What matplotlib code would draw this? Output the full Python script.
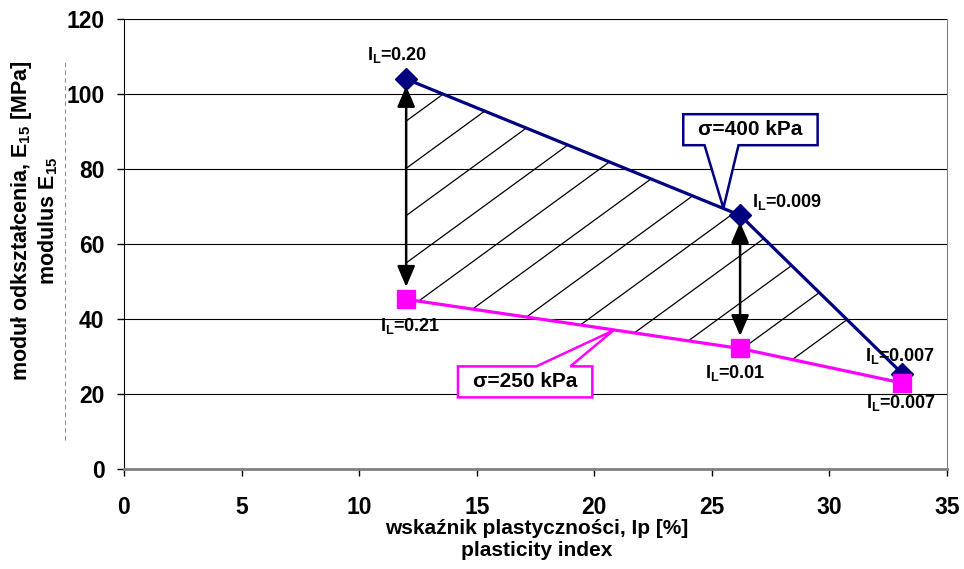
import numpy as np
import matplotlib
matplotlib.use("Agg")
import matplotlib.pyplot as plt
from matplotlib.patches import Polygon

plt.rcParams['font.family'] = ['Liberation Sans', 'DejaVu Sans']
plt.rcParams['font.weight'] = 'bold'
plt.rcParams['mathtext.fontset'] = 'custom'
plt.rcParams['mathtext.rm'] = 'Liberation Sans:bold'
plt.rcParams['mathtext.bf'] = 'Liberation Sans:bold'

# data
ip = [12.0, 26.2, 33.1]
e15_400 = [104.0, 67.7, 25.5]
e15_250 = [45.3, 32.2, 23.0]
il_400 = ['0.20', '0.009', '0.007']
il_250 = ['0.21', '0.01', '0.007']

navy = '#000080'
pink = '#FF00FF'

fig = plt.figure(figsize=(9.64, 5.69), dpi=100)
ax = fig.add_axes([0.1286, 0.1752, 0.9824 - 0.1286, 0.9666 - 0.1752])

ax.set_xlim(0, 35)
ax.set_ylim(0, 120)
ax.set_xticks(np.arange(0, 36, 5))
ax.set_yticks(np.arange(0, 121, 20))
for y in range(20, 121, 20):
    ax.axhline(y, color='black', lw=0.8, zorder=1)
ax.tick_params(axis='both', labelsize=16.5, length=5, width=1)
ax.tick_params(axis='x', pad=14)
ax.tick_params(axis='y', pad=9)
for lab in ax.get_xticklabels() + ax.get_yticklabels():
    lab.set_fontweight('bold')
ax.spines['top'].set_visible(False)
ax.spines['right'].set_color('#808080')
ax.spines['bottom'].set_color('#808080')
ax.spines['bottom'].set_linewidth(2)
ax.spines['left'].set_color('black')

# hatched region between the two curves
poly_xy = list(zip(ip, e15_400)) + list(zip(ip[::-1], e15_250[::-1]))
region = Polygon(poly_xy, closed=True, fill=False, edgecolor='none')
ax.add_patch(region)
slope = 4.57
for b in np.arange(55.0 - 12.6 * 8, 110, 12.6):
    xs = np.array([12.0, 33.1])
    hl, = ax.plot(xs, b + slope * (xs - 12.0), color='black', lw=0.9, zorder=2)
    hl.set_clip_path(region)

ax.plot(ip, e15_400, color=navy, lw=2.3, marker='D', ms=11, zorder=4)
ax.plot(ip, e15_250, color=pink, lw=2.3, marker='s', ms=13, zorder=5)

# double arrows between the two stresses
for i in range(2):
    ax.annotate('', xy=(ip[i], e15_250[i]), xytext=(ip[i], e15_400[i]),
                arrowprops=dict(arrowstyle='<|-|>,head_length=0.7,head_width=0.3',
                                color='black', lw=1.8, shrinkA=5, shrinkB=9,
                                mutation_scale=18), zorder=6)

# I_L labels
off_400 = [(-9, 24), (12, 13), (-2, 18)]
off_250 = [(4, -27), (-5, -25), (-1, -20)]
ha_400 = ['center', 'left', 'center']
for x, y, t, o, h in zip(ip, e15_400, il_400, off_400, ha_400):
    ax.annotate(r'I$_\mathrm{L}$=' + t, (x, y), xytext=o, textcoords='offset pixels',
                ha=h, va='center', fontsize=13, fontweight='bold', zorder=7)
for x, y, t, o in zip(ip, e15_250, il_250, off_250):
    ax.annotate(r'I$_\mathrm{L}$=' + t, (x, y), xytext=o, textcoords='offset pixels',
                ha='center', va='center', fontsize=13, fontweight='bold', zorder=7)


def callout(text, center, tip, frac, side, color):
    t = ax.text(center[0], center[1], text, ha='center', va='center', fontsize=15,
                fontweight='bold', zorder=9)
    fig.canvas.draw()
    bb = t.get_window_extent()
    x0, x1 = bb.x0 - 15, bb.x1 + 15
    y0, y1 = bb.y0 - 6, bb.y1 + 6
    tx, ty = ax.transData.transform(tip)
    bx = x0 + frac * (x1 - x0)
    w = 17
    if side == 'bottom':
        pts = [(x0, y1), (x1, y1), (x1, y0), (bx + w, y0), (tx, ty), (bx - w, y0), (x0, y0)]
    else:
        pts = [(x0, y0), (x1, y0), (x1, y1), (bx + w, y1), (tx, ty), (bx - w, y1), (x0, y1)]
    pts = ax.transData.inverted().transform(pts)
    ax.add_patch(Polygon(pts, closed=True, fc='white', ec=color, lw=1.8, zorder=8))


callout('σ=400 kPa', (26.64, 90.5), (25.49, 69.6), 0.285, 'bottom', navy)
callout('σ=250 kPa', (17.06, 23.3), (20.81, 37.0), 0.71, 'top', pink)

# axis titles
fig.text(537 / 964, 1 - 529 / 569, 'wskaźnik plastyczności, Ip [%]', ha='center', va='center',
         fontsize=15, fontweight='bold')
fig.text(537 / 964, 1 - 551 / 569, 'plasticity index', ha='center', va='center',
         fontsize=15, fontweight='bold')
fig.text(22 / 964, 1 - 221 / 569, r'moduł odkształcenia, E$_\mathrm{15}$ [MPa]', rotation=90,
         ha='center', va='center', fontsize=15.5, fontweight='bold')
fig.text(48 / 964, 1 - 221 / 569, r'modulus E$_\mathrm{15}$', rotation=90,
         ha='center', va='center', fontsize=15.5, fontweight='bold')
fig.add_artist(plt.Line2D([65 / 964, 65 / 964], [1 - 440 / 569, 1 - 60 / 569],
                          color='#909090', lw=0.8, ls=(0, (4, 3))))

fig.savefig('out.png', dpi=100)
